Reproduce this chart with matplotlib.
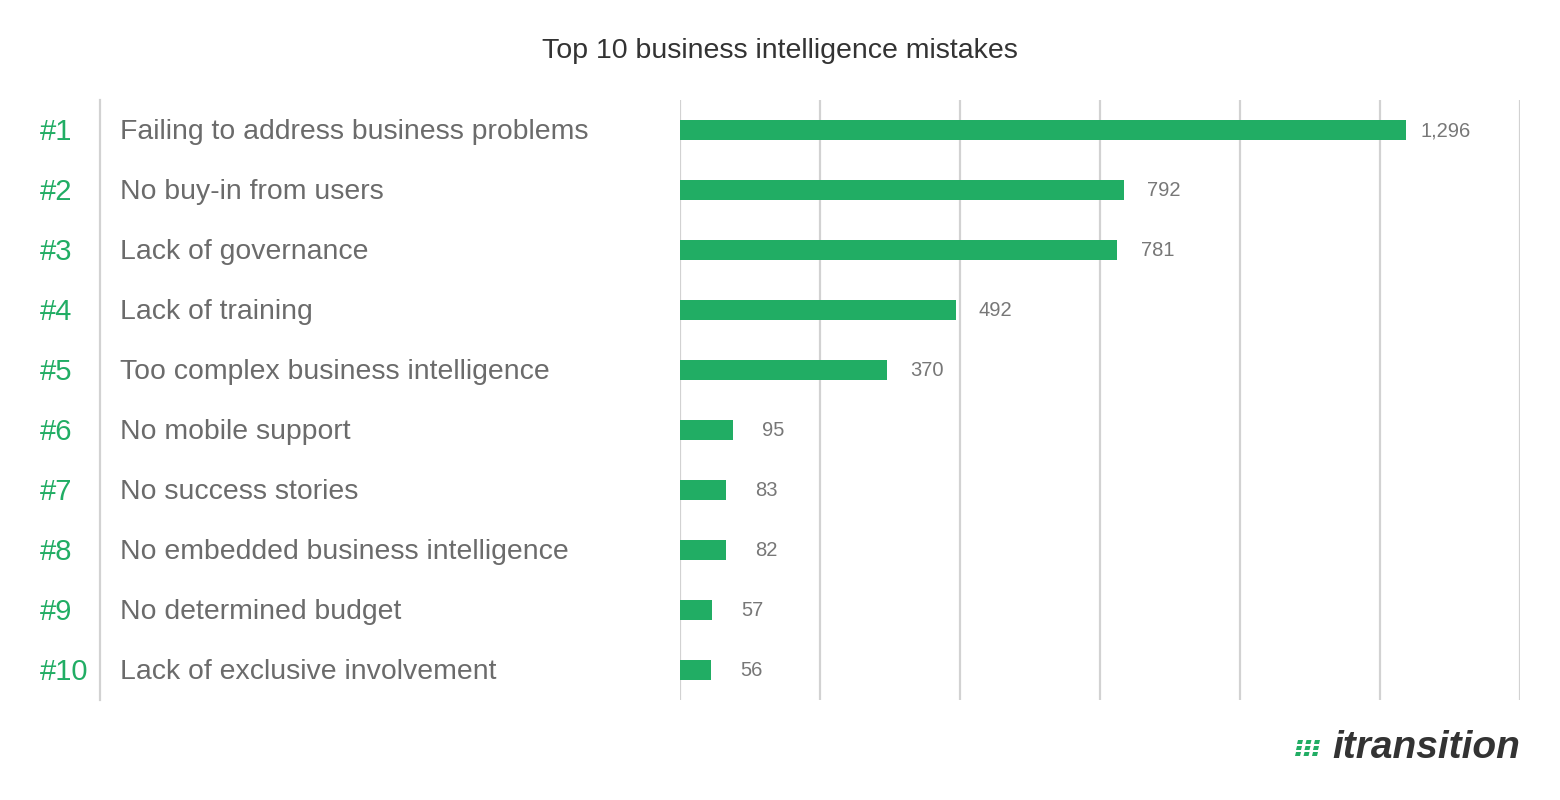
import matplotlib
matplotlib.use('Agg')
import matplotlib.pyplot as plt
from matplotlib.patches import Polygon

# ── data ─────────────────────────────────────────────────────────────────
ranks = ['#1', '#2', '#3', '#4', '#5', '#6', '#7', '#8', '#9', '#10']
mistakes = ['Failing to address business problems', 'No buy-in from users',
            'Lack of governance', 'Lack of training',
            'Too complex business intelligence', 'No mobile support',
            'No success stories', 'No embedded business intelligence',
            'No determined budget', 'Lack of exclusive involvement']
counts = [1296, 792, 781, 492, 370, 95, 83, 82, 57, 56]
x_ticks = [0, 250, 500, 750, 1000, 1250, 1500]

GREEN = '#21ad64'
GRID = '#d2d2d2'
plt.rcParams['font.family'] = ['Liberation Sans', 'DejaVu Sans']

fig = plt.figure(figsize=(15.6, 8), dpi=100)
ax = fig.add_axes([680/1560, 100/800, 840/1560, 600/800])

ypos = list(range(len(counts)))
ax.barh(ypos, counts, height=0.33, color=GREEN, zorder=3)
ax.set_xlim(0, 1500)
ax.set_ylim(len(counts) - 0.5, -0.5)
ax.set_xticks(x_ticks)
ax.set_yticks([])
ax.tick_params(axis='x', length=0, labelbottom=False)
ax.grid(True, axis='x', color=GRID, lw=1.6, zorder=0)
for s in ax.spines.values():
    s.set_visible(False)

for y, v, r, m in zip(ypos, counts, ranks, mistakes):
    ax.annotate(f'{v:,}', (v, y), xytext=(40, -1), textcoords='offset pixels',
                ha='center', va='center', fontsize=14.5, color='#777777')
    ax.annotate(r, (0, y), xycoords=('figure pixels', 'data'),
                xytext=(40, -2), textcoords='offset pixels',
                ha='left', va='center', fontsize=21, color=GREEN)
    ax.annotate(m, (0, y), xycoords=('figure pixels', 'data'),
                xytext=(120, -2), textcoords='offset pixels',
                ha='left', va='center', fontsize=20.4, color='#6b6b6b')

# left separator line
fig.add_artist(plt.Line2D([100/1560, 100/1560], [100/800, 700/800],
                          color=GRID, lw=1.6))

fig.text(780/1560, 1 - 51/800, 'Top 10 business intelligence mistakes',
         ha='center', va='center', fontsize=20.5, color='#333333')

# logo
fig.text(1520/1560, 1 - 748/800, 'itransition', ha='right', va='center',
         fontsize=28, fontweight='bold', style='italic', color='#333333')
for i in range(3):
    for j in range(3):
        x0 = 1297 + i * 8.5 - j * 1
        y0 = 800 - (740 + j * 6)
        pts = [(x0 + 1, y0), (x0 + 6, y0), (x0 + 5, y0 - 4), (x0, y0 - 4)]
        fig.add_artist(Polygon([(px/1560, py/800) for px, py in pts],
                               closed=True, color=GREEN, lw=0,
                               transform=fig.transFigure))

fig.savefig('out.png', dpi=100)
